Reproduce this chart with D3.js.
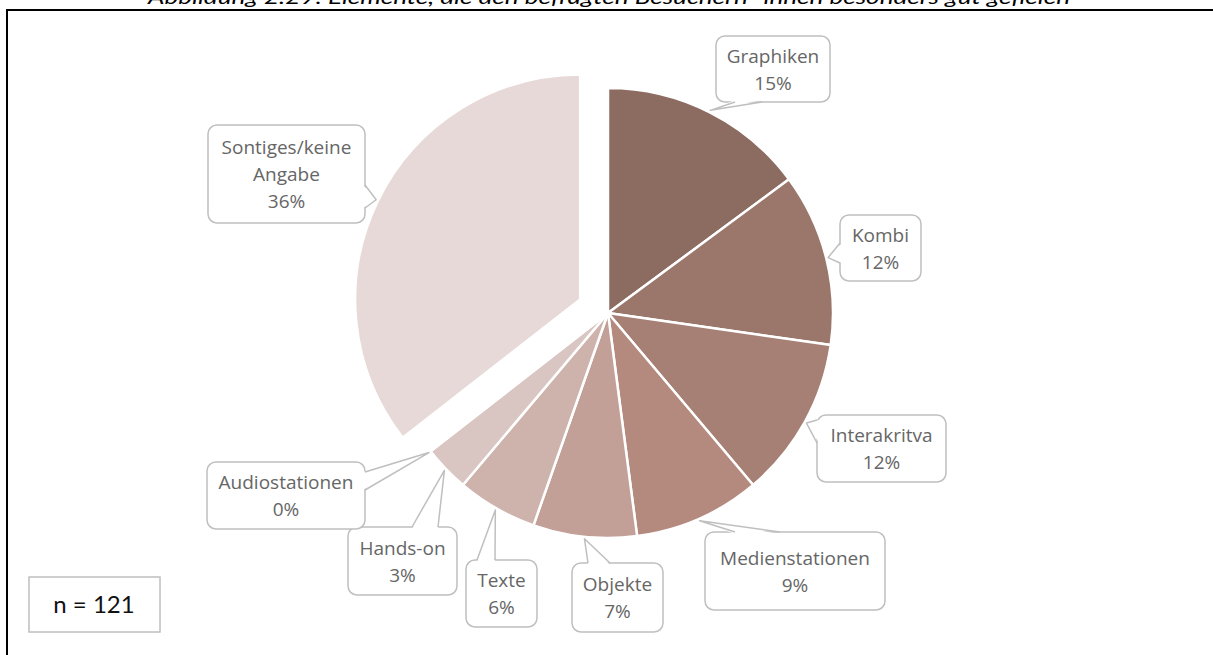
<!DOCTYPE html>
<html>
<head>
<meta charset="utf-8">
<script src="https://cdn.jsdelivr.net/npm/d3@7"></script>
<style>
  html, body { margin: 0; padding: 0; background: #fff; }
  svg { display: block; }
  .callout text { font-family: "Open Sans", Lato, sans-serif; font-size: 19px; fill: #666; }
</style>
</head>
<body>
<svg id="chart" width="1213" height="655"></svg>
<script>
const title = 'Abbildung 2.29: Elemente, die den befragten Besuchern* innen besonders gut gefielen';
const n = 121;

// clockwise from 12 o'clock, counts of the 121 answers
const categories = ['Graphiken', 'Kombi', 'Interakritva', 'Medienstationen', 'Objekte',
  'Texte', 'Hands-on', 'Audiostationen', 'Sontiges/keine Angabe'];
const counts = [18, 15, 14, 11, 9, 7, 4, 0, 43];
const colors = ['#8c6b61', '#9a766b', '#a68074', '#b58a7e', '#c29f97',
  '#ceb3ad', '#d9c5c1', '#e0cfcc', '#e6d9d7'];

// callout boxes: x, y, w, h, side of the pointer, pointer base from/to
const callouts = [
  { x: 716, y: 36, w: 114, h: 66, side: 'bottom', a: 735, b: 762, lines: ['Graphiken'] },
  { x: 840, y: 215, w: 81, h: 66, side: 'left', a: 243, b: 263, lines: ['Kombi'] },
  { x: 817, y: 415, w: 129, h: 67, side: 'left', a: 420, b: 443, lines: ['Interakritva'] },
  { x: 705, y: 532, w: 180, h: 78, side: 'top', a: 735, b: 780, lines: ['Medienstationen'] },
  { x: 572, y: 563, w: 91, h: 69, side: 'top', a: 588, b: 610, lines: ['Objekte'] },
  { x: 466, y: 560, w: 71, h: 67, side: 'top', a: 477, b: 495, lines: ['Texte'] },
  { x: 348, y: 527, w: 109, h: 68, side: 'top', a: 412, b: 438, lines: ['Hands-on'] },
  { x: 207, y: 462, w: 158, h: 67, side: 'right', a: 472, b: 490, lines: ['Audiostationen'] },
  { x: 208, y: 125, w: 157, h: 98, side: 'right', a: 185, b: 208, lines: ['Sontiges/keine', 'Angabe'] }
];

const svg = d3.select('#chart');
const [cx, cy, r] = [608, 313, 225];
const explode = 31;

// frame + cut-off caption
svg.append('text')
  .attr('x', 609).attr('y', 4)
  .attr('text-anchor', 'middle')
  .attr('font-family', 'Lato, "Open Sans", sans-serif')
  .attr('font-style', 'italic')
  .attr('font-size', 20)
  .attr('textLength', 922)
  .attr('lengthAdjust', 'spacingAndGlyphs')
  .text(title);

svg.append('rect')
  .attr('x', 7).attr('y', 10)
  .attr('width', 1230).attr('height', 700)
  .attr('fill', 'none')
  .attr('stroke', '#000')
  .attr('stroke-width', 2);

const pie = d3.pie().sort(null).value(d => d);
const arcs = pie(counts);
const arc = d3.arc().innerRadius(0).outerRadius(r);
const last = counts.length - 1;

const offset = (d, i) => {
  if (i !== last) return [0, 0];
  const m = (d.startAngle + d.endAngle) / 2;
  return [Math.sin(m) * explode, -Math.cos(m) * explode];
};

const g = svg.append('g').attr('transform', `translate(${cx},${cy})`);

g.selectAll('path.slice')
  .data(arcs)
  .join('path')
    .attr('class', 'slice')
    .attr('transform', (d, i) => `translate(${offset(d, i)})`)
    .attr('d', arc)
    .attr('fill', (d, i) => colors[i])
    .attr('stroke', '#fff')
    .attr('stroke-width', 2.5)
    .attr('stroke-linejoin', 'round');

// callouts
const tipOf = (d, i) => {
  const m = (d.startAngle + d.endAngle) / 2;
  const [ox, oy] = offset(d, i);
  const rr = r + 2;
  return [cx + ox + Math.sin(m) * rr, cy + oy - Math.cos(m) * rr];
};

const basePoints = (c, inset) => {
  switch (c.side) {
    case 'bottom': return [[c.a, c.y + c.h - inset], [c.b, c.y + c.h - inset]];
    case 'top': return [[c.a, c.y + inset], [c.b, c.y + inset]];
    case 'left': return [[c.x + inset, c.a], [c.x + inset, c.b]];
    default: return [[c.x + c.w - inset, c.a], [c.x + c.w - inset, c.b]];
  }
};

const co = svg.append('g')
  .selectAll('g')
  .data(arcs)
  .join('g')
    .attr('class', 'callout');

co.append('rect')
  .attr('x', (d, i) => callouts[i].x)
  .attr('y', (d, i) => callouts[i].y)
  .attr('width', (d, i) => callouts[i].w)
  .attr('height', (d, i) => callouts[i].h)
  .attr('rx', 9)
  .attr('fill', '#fff')
  .attr('stroke', '#bfbfbf')
  .attr('stroke-width', 1.5);

co.append('path')
  .attr('d', (d, i) => {
    const [p1, p2] = basePoints(callouts[i], 2);
    return 'M' + [p1, tipOf(d, i), p2].join('L') + 'Z';
  })
  .attr('fill', '#fff');

co.append('path')
  .attr('d', (d, i) => {
    const [p1, p2] = basePoints(callouts[i], 0);
    return 'M' + [p1, tipOf(d, i), p2].join('L');
  })
  .attr('fill', 'none')
  .attr('stroke', '#bfbfbf')
  .attr('stroke-width', 1.5)
  .attr('stroke-linejoin', 'round');

co.each(function (d, i) {
  const c = callouts[i];
  const lines = c.lines.concat(Math.round(counts[i] / n * 100) + '%');
  const lh = 27;
  const y0 = c.y + c.h / 2 - (lines.length - 1) * lh / 2 + 7;
  d3.select(this).selectAll('text')
    .data(lines)
    .join('text')
      .attr('x', c.x + c.w / 2)
      .attr('y', (t, k) => y0 + k * lh)
      .attr('text-anchor', 'middle')
      .text(t => t);
});

// sample size box
const nb = svg.append('g');
nb.append('rect')
  .attr('x', 29).attr('y', 577)
  .attr('width', 131).attr('height', 55)
  .attr('fill', '#fff')
  .attr('stroke', '#bfbfbf')
  .attr('stroke-width', 1.5);
nb.append('text')
  .attr('x', 94).attr('y', 613)
  .attr('text-anchor', 'middle')
  .attr('font-family', 'Lato, "Open Sans", sans-serif')
  .attr('font-size', 24)
  .attr('fill', '#111')
  .text('n = ' + n);
</script>
</body>
</html>
